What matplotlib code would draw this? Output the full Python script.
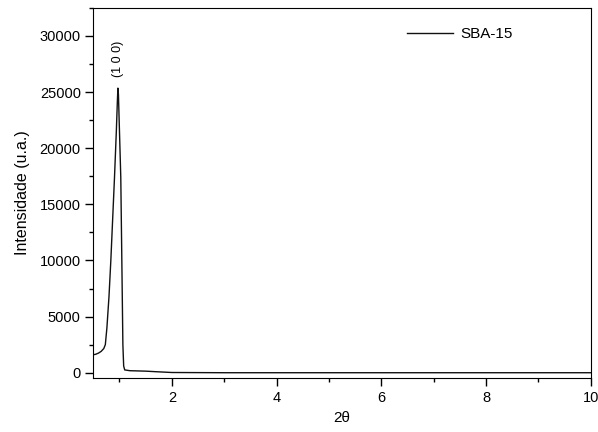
import matplotlib.pyplot as plt
from matplotlib.ticker import MultipleLocator

plt.rcParams['font.family'] = ['Liberation Sans', 'DejaVu Sans']

theta2 = [0.50, 0.55, 0.60, 0.65, 0.70, 0.73, 0.76, 0.80, 0.835, 0.87, 0.905,
          0.94, 0.96, 0.97, 0.98, 1.00, 1.025, 1.045, 1.065, 1.08, 1.10,
          1.2, 1.5, 1.7, 2.0, 3.0, 4.0, 5.0, 6.0, 7.0, 8.0, 9.0, 10.0]
intens = [1600, 1650, 1750, 1900, 2150, 2500, 4000, 6800, 10000, 13700, 17400,
          21500, 24200, 25350, 24800, 21500, 17400, 10000, 2500, 600, 250,
          180, 140, 90, 20, 0, 0, 0, 0, 0, 0, 0, 0]

fig = plt.figure(figsize=(5.98, 4.32), dpi=100)
ax = fig.add_axes([0.156, 0.125, 0.832, 0.8576])

ax.plot(theta2, intens, color='#111111', lw=1.0, label='SBA-15')
ax.text(0.975, 26300, '(1 0 0)', rotation=90, ha='center', va='bottom', fontsize=9)

ax.set_xlim(0.5, 10)
ax.set_ylim(-470, 32530)
ax.xaxis.set_major_locator(MultipleLocator(2))
ax.xaxis.set_minor_locator(MultipleLocator(1))
ax.yaxis.set_major_locator(MultipleLocator(5000))
ax.yaxis.set_minor_locator(MultipleLocator(2500))
ax.tick_params(which='both', direction='out', labelsize=10.5, width=1)
ax.tick_params(which='major', length=5.5)
ax.tick_params(which='minor', length=3)

ax.set_xlabel('2θ', fontsize=11, labelpad=5)
ax.set_ylabel('Intensidade (u.a.)', fontsize=11.5, labelpad=7)

ax.legend(loc='upper left', frameon=False, fontsize=11, handlelength=3.0,
          handletextpad=0.45, borderpad=0, borderaxespad=0,
          bbox_to_anchor=(0.631, 0.947))

fig.savefig('out.png', dpi=100)
